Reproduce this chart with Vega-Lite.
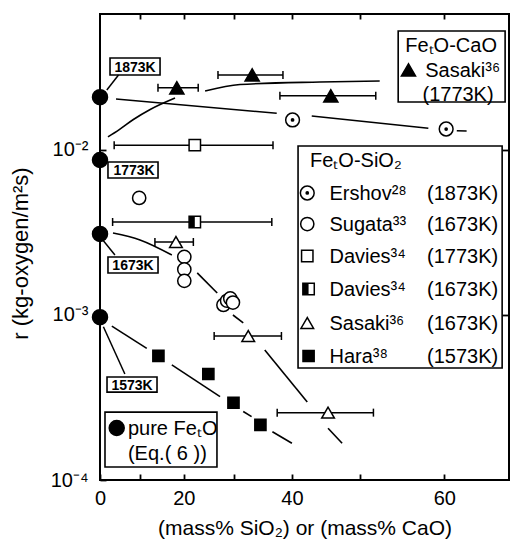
{
  "$schema": "https://vega.github.io/schema/vega-lite/v6.json",
  "width": 409,
  "height": 466,
  "autosize": {"type": "none"},
  "padding": {"left": 100, "top": 14, "right": 3, "bottom": 61},
  "background": "white",
  "config": {
    "view": {"stroke": "black", "strokeWidth": 2},
    "font": "Liberation Sans",
    "axis": {"grid": false, "domain": false, "ticks": true, "tickColor": "black", "tickWidth": 1.8, "labelColor": "black", "titleColor": "black", "labelFont": "Liberation Sans", "titleFont": "Liberation Sans", "labelFontSize": 19, "titleFontSize": 19, "titleFontWeight": "normal"},
    "text": {"font": "Liberation Sans", "color": "black"}
  },
  "datasets": {
    "points": [
      {"series": "pure", "T": "1873K", "pct": 0, "feo": 100, "r": 0.0209},
      {"series": "pure", "T": "1773K", "pct": 0, "feo": 100, "r": 0.0087},
      {"series": "pure", "T": "1673K", "pct": 0, "feo": 100, "r": 0.0031},
      {"series": "pure", "T": "1573K", "pct": 0, "feo": 100, "r": 0.00097},
      {"series": "Ershov", "pct": 40.1, "feo": 59.9, "r": 0.0152},
      {"series": "Ershov", "pct": 60.2, "feo": 39.8, "r": 0.0134},
      {"series": "Sugata", "pct": 9.9, "feo": 90.1, "r": 0.00512},
      {"series": "Sugata", "pct": 20.1, "feo": 79.9, "r": 0.00225},
      {"series": "Sugata", "pct": 20.1, "feo": 79.9, "r": 0.00189},
      {"series": "Sugata", "pct": 20.1, "feo": 79.9, "r": 0.00161},
      {"series": "Sugata", "pct": 28.0, "feo": 72.0, "r": 0.00115},
      {"series": "Sugata", "pct": 28.7, "feo": 71.3, "r": 0.00122},
      {"series": "Sugata", "pct": 29.3, "feo": 70.7, "r": 0.00126},
      {"series": "Sugata", "pct": 29.8, "feo": 70.2, "r": 0.00119},
      {"series": "Davies1773", "pct": 22.3, "feo": 77.7, "r": 0.0107, "feo_lo": 96.3, "feo_hi": 63.1},
      {"series": "Davies1673", "pct": 22.3, "feo": 77.7, "r": 0.00366, "feo_lo": 96.7, "feo_hi": 63.3},
      {"series": "SasakiSi", "pct": 18.3, "feo": 81.7, "r": 0.00277, "feo_lo": 86.4, "feo_hi": 78.0},
      {"series": "SasakiSi", "pct": 32.6, "feo": 67.4, "r": 0.000746, "feo_lo": 73.8, "feo_hi": 61.7},
      {"series": "SasakiSi", "pct": 45.5, "feo": 54.5, "r": 0.000256, "feo_lo": 62.4, "feo_hi": 48.3},
      {"series": "SasakiCa", "pct": 18.5, "feo": 81.5, "r": 0.0238, "feo_lo": 85.7, "feo_hi": 77.0},
      {"series": "SasakiCa", "pct": 33.3, "feo": 66.7, "r": 0.0285, "feo_lo": 73.05, "feo_hi": 61.45},
      {"series": "SasakiCa", "pct": 45.9, "feo": 54.1, "r": 0.0213, "feo_lo": 61.95, "feo_hi": 48.0},
      {"series": "Hara", "pct": 14.4, "feo": 85.6, "r": 0.000565},
      {"series": "Hara", "pct": 25.05, "feo": 74.95, "r": 0.000439},
      {"series": "Hara", "pct": 29.9, "feo": 70.1, "r": 0.000294},
      {"series": "Hara", "pct": 34.75, "feo": 65.25, "r": 0.000216}
    ],
    "lines": [
      {"seg": "e1", "feo": 95.83, "r": 0.02037},
      {"seg": "e1", "feo": 62.48, "r": 0.01669},
      {"seg": "e2", "feo": 56.92, "r": 0.01607},
      {"seg": "e2", "feo": 41.73, "r": 0.01353},
      {"seg": "e3", "feo": 38.69, "r": 0.01309},
      {"seg": "e3", "feo": 37.69, "r": 0.01303},
      {"seg": "c1", "feo": 97.9, "r": 0.0120},
      {"seg": "c1", "feo": 95.0, "r": 0.01330},
      {"seg": "c1", "feo": 91.5, "r": 0.01530},
      {"seg": "c1", "feo": 87.5, "r": 0.01760},
      {"seg": "c1", "feo": 81.9, "r": 0.02065},
      {"seg": "c2", "feo": 75.6, "r": 0.0228},
      {"seg": "c2", "feo": 68.9, "r": 0.02495},
      {"seg": "c2", "feo": 55.7, "r": 0.02581},
      {"seg": "c2", "feo": 47.5, "r": 0.02618},
      {"seg": "s1", "feo": 96.6, "r": 0.00314},
      {"seg": "s1", "feo": 89.9, "r": 0.00285},
      {"seg": "s1", "feo": 82.6, "r": 0.00231},
      {"seg": "s2", "feo": 77.2, "r": 0.0018},
      {"seg": "s2", "feo": 73.2, "r": 0.00136},
      {"seg": "s3", "feo": 70.2, "r": 0.001},
      {"seg": "s3", "feo": 68.3, "r": 0.000895},
      {"seg": "s4", "feo": 64.5, "r": 0.000614},
      {"seg": "s4", "feo": 57.6, "r": 0.000297},
      {"seg": "s5", "feo": 54.5, "r": 0.000206},
      {"seg": "s5", "feo": 52.5, "r": 0.000167},
      {"seg": "h1", "feo": 96.9, "r": 0.000857},
      {"seg": "h1", "feo": 88.3, "r": 0.000628},
      {"seg": "h2", "feo": 82.6, "r": 0.000498},
      {"seg": "h2", "feo": 72.65, "r": 0.00032},
      {"seg": "h3", "feo": 68.3, "r": 0.00026},
      {"seg": "h3", "feo": 66.8, "r": 0.000242},
      {"seg": "h4", "feo": 63.2, "r": 0.000196},
      {"seg": "h4", "feo": 60.0, "r": 0.000167}
    ],
    "leaders": [
      {"T": "1873K", "feo1": 98.2, "r1": 0.02308, "feo2": 95.2, "r2": 0.02848},
      {"T": "1673K", "feo1": 99.1, "r1": 0.00282, "feo2": 96.1, "r2": 0.00231},
      {"T": "1573K", "feo1": 99.1, "r1": 0.000849, "feo2": 93.6, "r2": 0.000439}
    ],
    "boxes": [
      {"box": "CaO legend", "feo1": 45.22, "feo2": 34.02, "r1": 0.0526, "r2": 0.01954},
      {"box": "SiO2 legend", "feo1": 59.03, "feo2": 34.29, "r1": 0.01057, "r2": 0.000477},
      {"box": "pure legend", "feo1": 98.68, "feo2": 73.25, "r1": 0.000258, "r2": 0.00012},
      {"box": "1873K", "feo1": 97.37, "feo2": 85.23, "r1": 0.0361, "r2": 0.02848},
      {"box": "1773K", "feo1": 97.9, "feo2": 85.69, "r1": 0.00846, "r2": 0.00676},
      {"box": "1673K", "feo1": 97.9, "feo2": 85.69, "r1": 0.002246, "r2": 0.001796},
      {"box": "1573K", "feo1": 98.15, "feo2": 85.92, "r1": 0.000421, "r2": 0.000341}
    ],
    "tempLabels": [
      {"text": "1873K", "feo": 91.1, "r": 0.0319},
      {"text": "1773K", "feo": 91.34, "r": 0.00756},
      {"text": "1673K", "feo": 91.6, "r": 0.00201},
      {"text": "1573K", "feo": 91.83, "r": 0.000379}
    ],
    "legendSym": [
      {"series": "Ershov", "feo": 57.6, "r": 0.005488},
      {"series": "Sugata", "feo": 57.6, "r": 0.003559},
      {"series": "Davies1773", "feo": 57.6, "r": 0.002278},
      {"series": "Davies1673", "feo": 57.4, "r": 0.001438},
      {"series": "SasakiSi", "feo": 57.6, "r": 0.000894},
      {"series": "Hara", "feo": 57.4, "r": 0.000564},
      {"series": "SasakiCa", "feo": 44.0, "r": 0.03055},
      {"series": "pure", "feo": 95.65, "r": 0.0002066}
    ],
    "legendLeft": [
      {"text": "FeₜO-SiO₂", "feo": 57.18, "r": 0.0087},
      {"text": "Ershov²⁸", "feo": 54.3, "r": 0.005488},
      {"text": "Sugata³³", "feo": 54.3, "r": 0.003559},
      {"text": "Davies³⁴", "feo": 54.3, "r": 0.002278},
      {"text": "Davies³⁴", "feo": 54.3, "r": 0.001438},
      {"text": "Sasaki³⁶", "feo": 54.3, "r": 0.000894},
      {"text": "Hara³⁸", "feo": 54.3, "r": 0.000564},
      {"text": "(1873K)", "feo": 41.88, "r": 0.005488},
      {"text": "(1673K)", "feo": 41.88, "r": 0.003559},
      {"text": "(1773K)", "feo": 41.88, "r": 0.002278},
      {"text": "(1673K)", "feo": 41.88, "r": 0.001438},
      {"text": "(1673K)", "feo": 41.88, "r": 0.000894},
      {"text": "(1573K)", "feo": 41.88, "r": 0.000564},
      {"text": "Sasaki³⁶", "feo": 42.08, "r": 0.03055},
      {"text": "pure FeₜO", "feo": 92.83, "r": 0.0002066},
      {"text": "(Eq.( 6 ))", "feo": 92.83, "r": 0.0001458}
    ],
    "legendCenter": [
      {"text": "FeₜO-CaO", "feo": 39.28, "r": 0.04329},
      {"text": "(1773K)", "feo": 38.56, "r": 0.02185}
    ]
  },
  "resolve": {"axis": {"x": "independent", "y": "independent"}},
  "layer": [
    {
      "data": {"name": "lines"},
      "mark": {"type": "line", "color": "black", "strokeWidth": 1.6, "interpolate": "monotone"},
      "encoding": {
        "x": {"field": "feo", "type": "quantitative",
          "scale": {"type": "log", "domain": [33.67, 100], "reverse": true, "nice": false},
          "axis": {"orient": "bottom", "values": [100, 90, 80, 70, 60, 50, 40],
            "labelExpr": "datum.value == 100 ? '0' : datum.value == 80 ? '20' : datum.value == 60 ? '40' : datum.value == 40 ? '60' : ''",
            "tickSize": -6, "labelPadding": 14, "labelFlush": false, "labelFontSize": 20, "title": "(mass% SiO₂) or (mass% CaO)", "titleFontSize": 21, "titlePadding": 9}},
        "y": {"field": "r", "type": "quantitative",
          "scale": {"type": "log", "domain": [0.0001, 0.0667], "nice": false},
          "axis": {"orient": "left", "values": [0.01, 0.001, 0.0001],
            "labelExpr": "datum.value > 0.005 ? '10⁻²' : datum.value > 0.0005 ? '10⁻³' : '10⁻⁴'",
            "tickSize": -6, "labelPadding": 18, "labelFlush": false, "labelFontSize": 20, "title": "r (kg-oxygen/m²s)", "titleFontSize": 22, "titleX": -68, "titleY": 239}},
        "detail": {"field": "seg"}
      }
    },
    {
      "data": {"name": "points"},
      "transform": [{"filter": "isValid(datum.feo_lo)"}],
      "mark": {"type": "rule", "color": "black", "strokeWidth": 1.5},
      "encoding": {
        "x": {"field": "feo_lo", "type": "quantitative", "axis": null},
        "x2": {"field": "feo_hi"},
        "y": {"field": "r", "type": "quantitative", "axis": null}
      }
    },
    {
      "data": {"name": "points"},
      "transform": [{"filter": "isValid(datum.feo_lo)"}],
      "mark": {"type": "point", "shape": "M0,-1L0,1", "size": 64, "filled": false, "stroke": "black", "strokeWidth": 1.5, "opacity": 1},
      "encoding": {
        "x": {"field": "feo_lo", "type": "quantitative", "axis": null},
        "y": {"field": "r", "type": "quantitative", "axis": null}
      }
    },
    {
      "data": {"name": "points"},
      "transform": [{"filter": "isValid(datum.feo_hi)"}],
      "mark": {"type": "point", "shape": "M0,-1L0,1", "size": 64, "filled": false, "stroke": "black", "strokeWidth": 1.5, "opacity": 1},
      "encoding": {
        "x": {"field": "feo_hi", "type": "quantitative", "axis": null},
        "y": {"field": "r", "type": "quantitative", "axis": null}
      }
    },
    {
      "data": {"name": "points"},
      "mark": {"type": "point", "filled": true, "stroke": "black", "strokeWidth": 1.5, "opacity": 1},
      "encoding": {
        "x": {"field": "feo", "type": "quantitative",
          "scale": {"type": "log", "domain": [33.67, 100], "reverse": true, "nice": false},
          "axis": {"orient": "top", "values": [90, 80, 70, 60, 50, 40], "labels": false, "tickSize": -5, "title": null}},
        "y": {"field": "r", "type": "quantitative",
          "scale": {"type": "log", "domain": [0.0001, 0.0667], "nice": false},
          "axis": {"orient": "right", "values": [0.01, 0.001], "labels": false, "tickSize": -7, "title": null}},
        "shape": {"field": "series", "type": "nominal", "legend": null,
          "scale": {"domain": ["pure", "Ershov", "Sugata", "Davies1773", "Davies1673", "SasakiSi", "SasakiCa", "Hara"],
            "range": ["circle", "circle", "circle", "square", "square", "triangle-up", "triangle-up", "square"]}},
        "fill": {"field": "series", "type": "nominal", "legend": null,
          "scale": {"domain": ["pure", "Ershov", "Sugata", "Davies1773", "Davies1673", "SasakiSi", "SasakiCa", "Hara"],
            "range": ["black", "white", "white", "white", "white", "white", "black", "black"]}},
        "size": {"field": "series", "type": "ordinal", "legend": null,
          "scale": {"type": "ordinal", "domain": ["pure", "Ershov", "Sugata", "Davies1773", "Davies1673", "SasakiSi", "SasakiCa", "Hara"],
            "range": [225, 190, 175, 130, 130, 160, 200, 125]}}
      }
    },
    {
      "data": {"name": "points"},
      "transform": [{"filter": "datum.series == 'Ershov'"}],
      "mark": {"type": "point", "shape": "circle", "size": 14, "filled": true, "color": "black", "opacity": 1},
      "encoding": {
        "x": {"field": "feo", "type": "quantitative", "axis": null},
        "y": {"field": "r", "type": "quantitative", "axis": null}
      }
    },
    {
      "data": {"name": "points"},
      "transform": [{"filter": "datum.series == 'Davies1673'"}],
      "mark": {"type": "point", "shape": "M-1,-1H0V1H-1Z", "size": 130, "filled": true, "color": "black", "opacity": 1},
      "encoding": {
        "x": {"field": "feo", "type": "quantitative", "axis": null},
        "y": {"field": "r", "type": "quantitative", "axis": null}
      }
    },
    {
      "data": {"name": "boxes"},
      "mark": {"type": "rect", "fill": "white", "stroke": "black", "strokeWidth": 1.6},
      "encoding": {
        "x": {"field": "feo1", "type": "quantitative", "axis": null},
        "x2": {"field": "feo2"},
        "y": {"field": "r1", "type": "quantitative", "axis": null},
        "y2": {"field": "r2"}
      }
    },
    {
      "data": {"name": "leaders"},
      "mark": {"type": "rule", "color": "black", "strokeWidth": 1.5},
      "encoding": {
        "x": {"field": "feo1", "type": "quantitative", "axis": null},
        "x2": {"field": "feo2"},
        "y": {"field": "r1", "type": "quantitative", "axis": null},
        "y2": {"field": "r2"}
      }
    },
    {
      "data": {"name": "legendSym"},
      "mark": {"type": "point", "filled": true, "stroke": "black", "strokeWidth": 1.5, "opacity": 1},
      "encoding": {
        "x": {"field": "feo", "type": "quantitative", "axis": null},
        "y": {"field": "r", "type": "quantitative", "axis": null},
        "shape": {"field": "series", "type": "nominal", "legend": null,
          "scale": {"domain": ["pure", "Ershov", "Sugata", "Davies1773", "Davies1673", "SasakiSi", "SasakiCa", "Hara"],
            "range": ["circle", "circle", "circle", "square", "square", "triangle-up", "triangle-up", "square"]}},
        "fill": {"field": "series", "type": "nominal", "legend": null,
          "scale": {"domain": ["pure", "Ershov", "Sugata", "Davies1773", "Davies1673", "SasakiSi", "SasakiCa", "Hara"],
            "range": ["black", "white", "white", "white", "white", "white", "black", "black"]}},
        "size": {"field": "series", "type": "ordinal", "legend": null,
          "scale": {"type": "ordinal", "domain": ["pure", "Ershov", "Sugata", "Davies1773", "Davies1673", "SasakiSi", "SasakiCa", "Hara"],
            "range": [225, 190, 175, 130, 130, 160, 200, 125]}}
      }
    },
    {
      "data": {"name": "legendSym"},
      "transform": [{"filter": "datum.series == 'Ershov'"}],
      "mark": {"type": "point", "shape": "circle", "size": 14, "filled": true, "color": "black", "opacity": 1},
      "encoding": {
        "x": {"field": "feo", "type": "quantitative", "axis": null},
        "y": {"field": "r", "type": "quantitative", "axis": null}
      }
    },
    {
      "data": {"name": "legendSym"},
      "transform": [{"filter": "datum.series == 'Davies1673'"}],
      "mark": {"type": "point", "shape": "M-1,-1H0V1H-1Z", "size": 130, "filled": true, "color": "black", "opacity": 1},
      "encoding": {
        "x": {"field": "feo", "type": "quantitative", "axis": null},
        "y": {"field": "r", "type": "quantitative", "axis": null}
      }
    },
    {
      "data": {"name": "tempLabels"},
      "mark": {"type": "text", "fontSize": 14, "fontWeight": "bold", "align": "center", "baseline": "middle", "dy": 1},
      "encoding": {
        "x": {"field": "feo", "type": "quantitative", "axis": null},
        "y": {"field": "r", "type": "quantitative", "axis": null},
        "text": {"field": "text"}
      }
    },
    {
      "data": {"name": "legendLeft"},
      "mark": {"type": "text", "fontSize": 20, "align": "left", "baseline": "middle", "dy": 1},
      "encoding": {
        "x": {"field": "feo", "type": "quantitative", "axis": null},
        "y": {"field": "r", "type": "quantitative", "axis": null},
        "text": {"field": "text"}
      }
    },
    {
      "data": {"name": "legendCenter"},
      "mark": {"type": "text", "fontSize": 20, "align": "center", "baseline": "middle", "dy": 1},
      "encoding": {
        "x": {"field": "feo", "type": "quantitative", "axis": null},
        "y": {"field": "r", "type": "quantitative", "axis": null},
        "text": {"field": "text"}
      }
    }
  ]
}
